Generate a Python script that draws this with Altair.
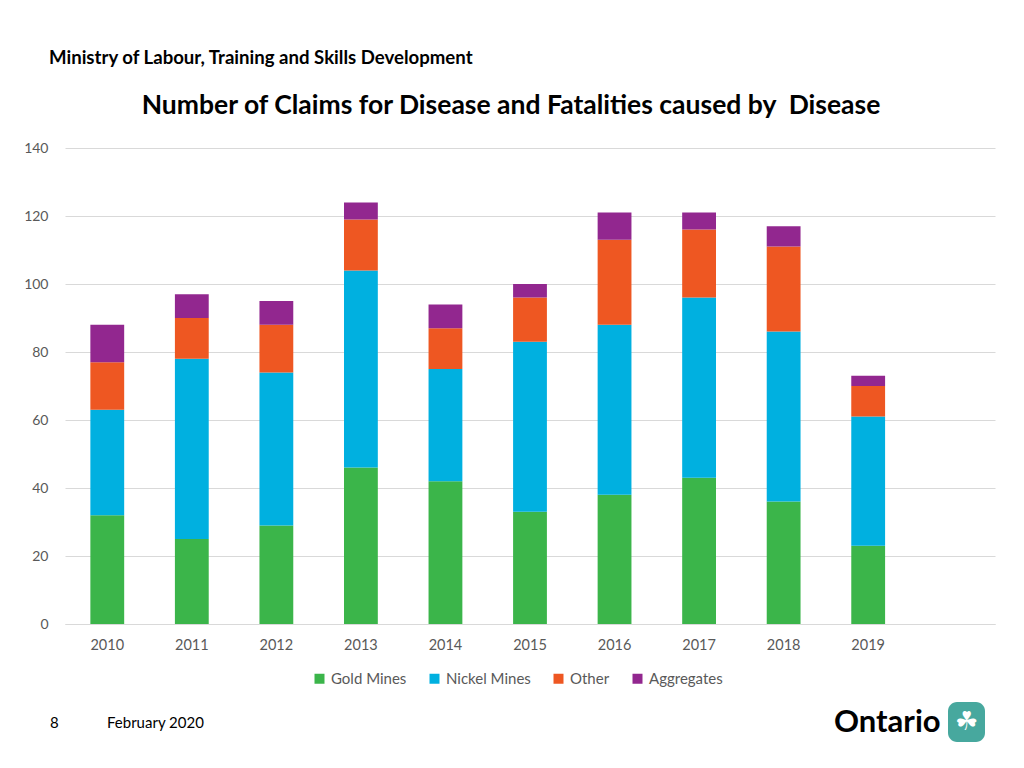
import altair as alt
import pandas as pd

years = ["2010", "2011", "2012", "2013", "2014", "2015", "2016", "2017", "2018", "2019"]
gold_mines = [32, 25, 29, 46, 42, 33, 38, 43, 36, 23]
nickel_mines = [31, 53, 45, 58, 33, 50, 50, 53, 50, 38]
other = [14, 12, 14, 15, 12, 13, 25, 20, 25, 9]
aggregates = [11, 7, 7, 5, 7, 4, 8, 5, 6, 3]
series = ["Gold Mines", "Nickel Mines", "Other", "Aggregates"]
colors = ["#3BB54A", "#00B0E0", "#EE5722", "#92278F"]
y_ticks = [0, 20, 40, 60, 80, 100, 120, 140]
x_domain = years + [" "]

rows = []
for name, vals in zip(series, [gold_mines, nickel_mines, other, aggregates]):
    for i, (yr, v) in enumerate(zip(years, vals)):
        rows.append({"Year": yr, "Series": name, "Value": v, "Order": series.index(name)})
df = pd.DataFrame(rows)

FONT = "Lato"
GRAY = "#595959"

bars = alt.Chart(df).mark_bar().encode(
    x=alt.X("Year:N", scale=alt.Scale(domain=x_domain, paddingInner=0.6, paddingOuter=0.3),
            axis=alt.Axis(title=None, labelAngle=0, ticks=False, domainColor="#D9D9D9",
                          labelColor=GRAY, labelFontSize=14.5, labelFont=FONT, labelPadding=14,
                          grid=False)),
    y=alt.Y("sum(Value):Q", stack="zero", scale=alt.Scale(domain=[0, 140], nice=False),
            axis=alt.Axis(title=None, values=y_ticks, ticks=False, domain=False,
                          labelColor=GRAY, labelFontSize=14, labelFont=FONT, labelPadding=17,
                          gridColor="#D9D9D9", gridWidth=1)),
    color=alt.Color("Series:N", scale=alt.Scale(domain=series, range=colors),
                    legend=alt.Legend(title=None, orient="none", direction="horizontal",
                                      legendX=247, legendY=523, symbolType="square",
                                      symbolSize=100, symbolStrokeWidth=0,
                                      labelFont=FONT, labelFontSize=15, labelColor=GRAY,
                                      columnPadding=20, labelOffset=4)),
    order=alt.Order("Order:Q", sort="ascending"),
)

one = alt.Data(values=[{"a": 1}])

def txt(s, x, y, size, bold=False, align="left", color="#000000"):
    return alt.Chart(one).mark_text(
        text=s, align=align, baseline="middle", font=FONT, fontSize=size,
        fontWeight="bold" if bold else "normal", color=color,
    ).encode(x=alt.value(x), y=alt.value(y))

header = txt("Ministry of Labour, Training and Skills Development", -16, -90, 18.6, bold=True)
title = txt("Number of Claims for Disease and Fatalities caused by \u00a0Disease", 446, -42, 26.5, bold=True, align="center")
page = txt("8", -15, 575, 15)
date = txt("February 2020", 42, 575, 15)
ontario = txt("Ontario", 769, 575, 31, bold=True)

logo = alt.Chart(one).mark_rect(color="#47A89E", cornerRadius=9).encode(
    x=alt.value(883), x2=alt.value(920), y=alt.value(554), y2=alt.value(594)
)
logo_glyph = txt("\u2618", 901.5, 574, 26, align="center", color="#FFFFFF")

chart = alt.layer(bars, header, title, page, date, ontario, logo, logo_glyph).properties(
    width=930, height=476,
    background="white",
    autosize=alt.AutoSizeParams(type="none"),
    padding={"left": 57, "top": 140, "right": 21, "bottom": 136},
).configure_view(stroke=None)

chart.save("out.html", embed_options={"renderer": "svg", "actions": False})
